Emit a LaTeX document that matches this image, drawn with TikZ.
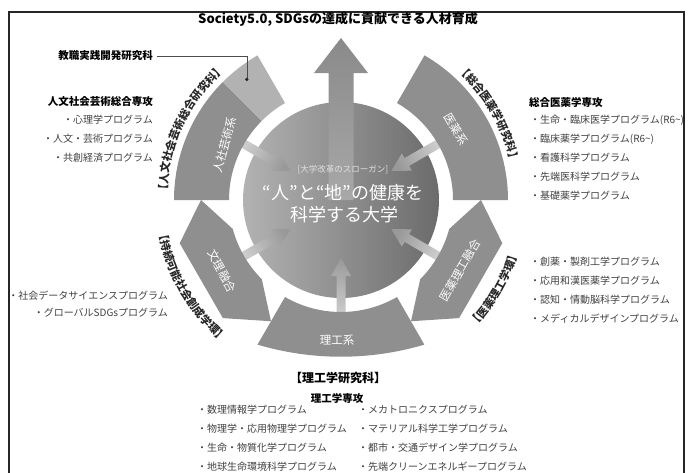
\documentclass[tikz,border=0pt]{standalone}
\usepackage{fontspec}
\setmainfont{Noto Sans CJK JP}
\usetikzlibrary{decorations.text,positioning}
\tikzset{
  seg/.style={fill=black!44},
  segl/.style={text=white, font=\fontsize{11.5}{13}\selectfont},
  prog/.style={font=\fontsize{10}{12}\selectfont, text=black!75, inner sep=0pt},
  major/.style={font=\bfseries\fontsize{10.5}{12}\selectfont, inner sep=0pt},
  inarrow/.style={top color=black!20, bottom color=black!40},
  arctext/.style={decorate, decoration={text along path, text align=center, text color=black!85, text={|\bfseries\fontsize{11}{11}\selectfont|#1}}},
}

\begin{document}
\begin{tikzpicture}[x=1pt,y=1pt]
        \def\rc{98pt}
        \def\ri{112pt}
        \def\ro{167pt}
        \def\rt{174pt}
        \def\rb{185pt}
        \useasboundingbox (-341,-272) rectangle (349,200);
        \coordinate (o) at (0,0);
        \draw[line width=1.5pt, black!85] (-332,188) rectangle (343,-290);

        \shade[left color=black!30, right color=black!58] (o) circle (\rc);
        \shade[top color=black!46, bottom color=black!34] (-12.5,0) -- (-12.5,127) -- (-27,127) -- (0,162) -- (27,127) -- (12.5,127) -- (12.5,0) -- cycle;
        \foreach \a in {150,30,-30,-90,210}{
            \pgfmathsetmacro\sa{\a-90}
            \shade[inarrow, shading angle=\sa, rotate=\a] (114,-4.5) -- (76,-4.5) -- (76,-10) -- (58,0) -- (76,10) -- (76,4.5) -- (114,4.5) -- cycle;
        }

        \fill[seg] (135:\ri) -- (135:\ro) arc[start angle=135, end angle=180, radius=\ro] -- (180:\ri) arc[start angle=180, end angle=135, radius=\ri] -- cycle;
        \fill[black!30] (120:\ri) -- (120:\ro) arc[start angle=120, end angle=135, radius=\ro] -- (135:\ri) arc[start angle=135, end angle=120, radius=\ri] -- cycle;
        \fill[seg] (0:\ri) -- (0:\ro) arc[start angle=0, end angle=60, radius=\ro] -- (60:\ri) arc[start angle=60, end angle=0, radius=\ri] -- cycle;
        \fill[seg] (-120:\ri) -- (-120:\ro) arc[start angle=253.5, end angle=286.5, radius=293.7pt] -- (-60:\ri) arc[start angle=-60, end angle=-120, radius=\ri] -- cycle;
        \fill[seg] (0:140pt) -- (-15:\ro) -- (-45:\ro) -- (-60:140pt) -- (-45:\ri) arc[start angle=-45, end angle=-15, radius=\ri] -- cycle;
        \fill[seg] (180:140pt) -- (195:\ro) -- (225:\ro) -- (240:140pt) -- (225:\ri) arc[start angle=225, end angle=195, radius=\ri] -- cycle;

        \path[arctext={【人文社会芸術総合研究科】}] (185:\rt) arc[start angle=185, end angle=125, radius=\rt];
        \path[arctext={【総合医薬学研究科】}] (60:\rt) arc[start angle=60, end angle=0, radius=\rt];
        \path[arctext={【医薬理工学環】}] (-60:\rb) arc[start angle=-60, end angle=0, radius=\rb];
        \path[arctext={【持続可能社会創成学環】}] (180:\rb) arc[start angle=180, end angle=240, radius=\rb];

        \node[font=\bfseries\fontsize{13}{15}\selectfont] (title) at (-3,181) {Society5.0, SDGsの達成に貢献できる人材育成};

        \node[text=black!12, font=\fontsize{8.5}{10}\selectfont] (slogan) at (2,30) {[大学改革のスローガン]};
        \node[text=white, font=\fontsize{18}{20}\selectfont] (motto1) at (2,7) {“人”と“地”の健康を};
        \node[text=white, font=\fontsize{18}{20}\selectfont] (motto2) at (3,-15) {科学する大学};

        \node[segl, rotate=75] (jinsha) at (-116,55) {人社芸術系};
        \node[segl, rotate=-60] (iyakukei) at (115,71) {医薬系};
        \node[segl, rotate=60] (yugo) at (119,-70) {医薬理工融合};
        \node[segl, rotate=-62] (bunri) at (-119,-71) {文理融合};
        \node[segl] (rikokei) at (-4,-140) {理工系};

        \coordinate (kdot) at (128:153pt);
        \node[major, anchor=east] (kyoshoku) at (-188,144) {教職実践開発研究科};
        \draw[black!70, line width=0.6pt, shorten <=4pt] (kyoshoku.east) -| (kdot);
        \fill[black!85] (kdot) circle (1.8pt);

        \node[major, anchor=east] (jinbun) at (-188,98) {人文社会芸術総合専攻};
        \foreach \t [count=\i] in {・心理学プログラム, ・人文・芸術プログラム, ・共創経済プログラム}
            \node[prog, anchor=east] (jinbun\i) at (-188,99-\i*19) {\t};

        \node[major, anchor=west] (iyaku) at (188,98) {総合医薬学専攻};
        \foreach \t [count=\i] in {・生命・臨床医学プログラム(R6\textasciitilde), ・臨床薬学プログラム(R6\textasciitilde), ・看護科学プログラム, ・先端医科学プログラム, ・基礎薬学プログラム}
            \node[prog, anchor=west] (iyaku\i) at (189,99-\i*19) {\t};

        \foreach \t [count=\i] in {・創薬・製剤工学プログラム, ・応用和漢医薬学プログラム, ・認知・情動脳科学プログラム, ・メディカルデザインプログラム}
            \node[prog, anchor=west] (gakkan\i) at (189,-43-\i*19) {\t};

        \foreach \t [count=\i] in {・社会データサイエンスプログラム, ・グローバルSDGsプログラム}
            \node[prog, anchor=east] (jizoku\i) at (-173,-79-\i*17) {\t};

        \node[major, font=\bfseries\fontsize{12}{14}\selectfont] (rikoken) at (-3,-178) {【理工学研究科】};
        \node[major] (riko) at (-4,-198) {理工学専攻};
        \foreach \t [count=\i] in {・数理情報学プログラム, ・物理学・応用物理学プログラム, ・生命・物質化学プログラム, ・地球生命環境科学プログラム}
            \node[prog, anchor=west] (rikoL\i) at (-144,-191-\i*19) {\t};
        \foreach \t [count=\i] in {・メカトロニクスプログラム, ・マテリアル科学工学プログラム, ・都市・交通デザイン学プログラム, ・先端クリーンエネルギープログラム}
            \node[prog, anchor=west] (rikoR\i) at (17,-191-\i*19) {\t};
\end{tikzpicture}
\end{document}
